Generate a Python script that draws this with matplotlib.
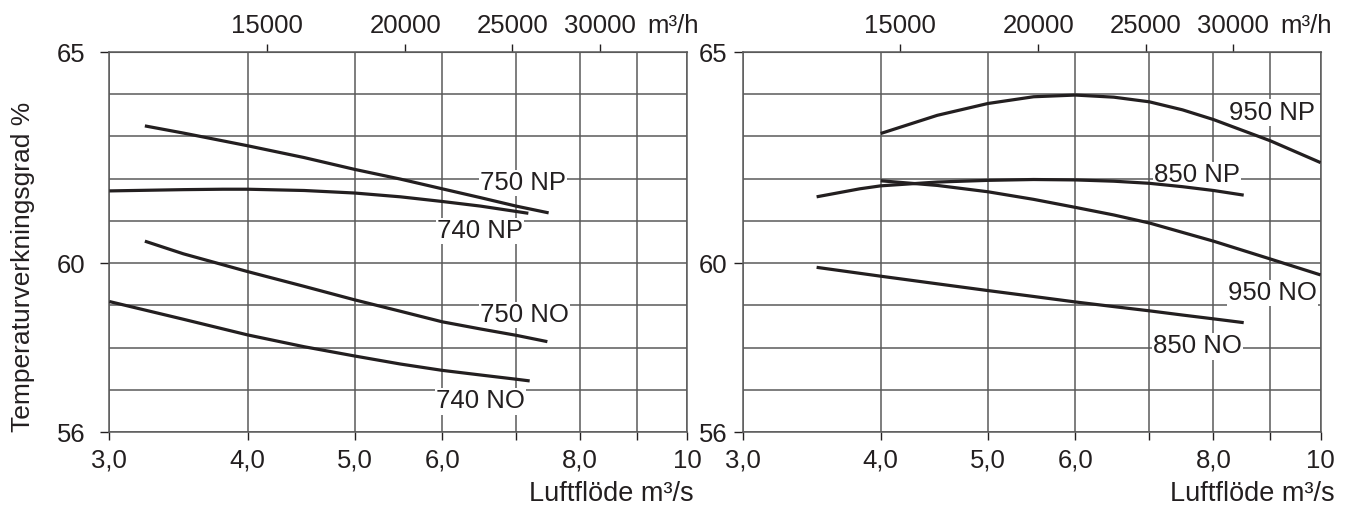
import matplotlib
matplotlib.use("Agg")
import matplotlib.pyplot as plt
from matplotlib.ticker import FixedLocator, NullFormatter, NullLocator

plt.rcParams['font.family'] = ['Liberation Sans', 'DejaVu Sans']

INK = '#231f20'
GRID = '#5a5a5a'

# left panel curves (Luftflöde m³/s -> Temperaturverkningsgrad %)
x_750np = [3.23, 3.5, 4.0, 4.5, 5.0, 5.5, 6.0, 6.5, 7.0, 7.49]
y_750np = [63.25, 63.08, 62.78, 62.50, 62.22, 61.99, 61.76, 61.55, 61.35, 61.19]
x_740np = [3.0, 3.5, 3.8, 4.0, 4.5, 5.0, 5.5, 6.0, 6.5, 7.18]
y_740np = [61.71, 61.74, 61.75, 61.75, 61.72, 61.66, 61.57, 61.46, 61.35, 61.18]
x_750no = [3.23, 3.5, 4.0, 4.5, 5.0, 5.5, 6.0, 6.5, 7.0, 7.47]
y_750no = [60.52, 60.22, 59.80, 59.45, 59.13, 58.86, 58.61, 58.44, 58.29, 58.14]
x_740no = [3.0, 3.5, 4.0, 4.5, 5.0, 5.5, 6.0, 6.5, 7.0, 7.2]
y_740no = [59.09, 58.67, 58.30, 58.02, 57.80, 57.61, 57.46, 57.35, 57.25, 57.21]

# right panel curves
x_950np = [4.0, 4.5, 5.0, 5.5, 6.0, 6.5, 7.0, 7.5, 8.0, 9.0, 10.0]
y_950np = [63.07, 63.50, 63.78, 63.94, 63.98, 63.93, 63.82, 63.63, 63.40, 62.90, 62.38]
x_850np = [3.5, 3.83, 4.0, 4.5, 5.0, 5.5, 6.0, 6.5, 7.0, 7.5, 8.0, 8.52]
y_850np = [61.57, 61.76, 61.83, 61.92, 61.96, 61.98, 61.97, 61.94, 61.89, 61.81, 61.72, 61.61]
x_950no = [4.0, 4.5, 5.0, 5.5, 6.0, 6.5, 7.0, 8.0, 9.0, 10.0]
y_950no = [61.95, 61.84, 61.69, 61.51, 61.32, 61.14, 60.95, 60.52, 60.10, 59.72]
x_850no = [3.5, 4.0, 4.5, 5.0, 5.5, 6.0, 6.5, 7.0, 7.5, 8.0, 8.52]
y_850no = [59.90, 59.69, 59.51, 59.35, 59.21, 59.08, 58.97, 58.87, 58.77, 58.68, 58.59]

left_curves = [(x_750np, y_750np), (x_740np, y_740np), (x_750no, y_750no), (x_740no, y_740no)]
right_curves = [(x_950np, y_950np), (x_850np, y_850np), (x_950no, y_950no), (x_850no, y_850no)]

# curve labels: text, x (centre), y (baseline)
left_labels = [('750 NP', 7.10, 61.73), ('740 NP', 6.49, 60.59),
               ('750 NO', 7.12, 58.61), ('740 NO', 6.50, 56.56)]
right_labels = [('950 NP', 9.04, 63.40), ('850 NP', 7.73, 61.91),
                ('950 NO', 9.05, 59.13), ('850 NO', 7.74, 57.86)]

x_major = [3, 4, 5, 6, 8, 10]
x_major_labels = ['3,0', '4,0', '5,0', '6,0', '8,0', '10']
x_minor = [7, 9]
y_major = [56, 60, 65]
y_minor = [57, 58, 59, 61, 62, 63, 64]
top_ticks = [15000, 20000, 25000, 30000]
top_labels = ['15000', '20000', '25000', '30000']

FS = 18.5

fig = plt.figure(figsize=(13.5, 5.08), dpi=100)
ax1 = fig.add_axes([109.4 / 1350, 76 / 508, 578 / 1350, 380 / 508])
ax2 = fig.add_axes([742.6 / 1350, 76 / 508, 578 / 1350, 380 / 508])


def setup(ax, curves, labels, ypad, xlab_x):
    ax.set_xscale('log')
    ax.set_xlim(3, 10)
    ax.set_ylim(56, 65)
    ax.set_axisbelow(True)
    ax.xaxis.set_major_locator(FixedLocator(x_major))
    ax.set_xticklabels(x_major_labels)
    ax.xaxis.set_minor_locator(FixedLocator(x_minor))
    ax.xaxis.set_minor_formatter(NullFormatter())
    ax.yaxis.set_major_locator(FixedLocator(y_major))
    ax.yaxis.set_minor_locator(FixedLocator(y_minor))
    ax.tick_params(axis='x', which='both', direction='out', length=6, width=1,
                   color=INK, labelsize=FS, labelcolor=INK, pad=6)
    ax.tick_params(axis='y', which='major', direction='out', length=6.5, width=1,
                   color=INK, labelsize=FS, labelcolor=INK, pad=ypad)
    ax.tick_params(axis='y', which='minor', length=0)
    ax.grid(True, which='both', color=GRID, lw=1.1)
    for sp in ax.spines.values():
        sp.set_color(GRID)
        sp.set_linewidth(1.1)

    for xs, ys in curves:
        ax.plot(xs, ys, color=INK, lw=2.3, zorder=4, solid_capstyle='butt',
                solid_joinstyle='round')

    for txt, x, y in labels:
        ax.text(x, y, txt, ha='center', va='baseline', fontsize=FS, color=INK, zorder=3,
                bbox=dict(facecolor='white', edgecolor='none', pad=1.0))

    sec = ax.secondary_xaxis('top', functions=(lambda q: q * 3600, lambda f: f / 3600))
    sec.xaxis.set_major_locator(FixedLocator(top_ticks))
    sec.set_xticklabels(top_labels)
    sec.xaxis.set_minor_locator(NullLocator())
    sec.tick_params(axis='x', direction='out', length=6, width=1, color=INK,
                    labelsize=FS, labelcolor=INK, pad=4)
    sec.spines['top'].set_color(GRID)
    ax.text(0.93, 1.049, 'm³/h', transform=ax.transAxes, ha='left', va='baseline',
            fontsize=FS, color=INK)
    ax.text(xlab_x, -0.181, 'Luftflöde m³/s', transform=ax.transAxes, ha='right',
            va='baseline', fontsize=19.5, color=INK)


setup(ax1, left_curves, left_labels, 10.5, 1.01)
setup(ax2, right_curves, right_labels, 4.5, 1.025)

fig.text(23 / 1350, 1 - 267 / 508, 'Temperaturverkningsgrad %', rotation=90,
         ha='center', va='center', fontsize=19, color=INK)

fig.savefig('out.png', dpi=100, facecolor='white')
